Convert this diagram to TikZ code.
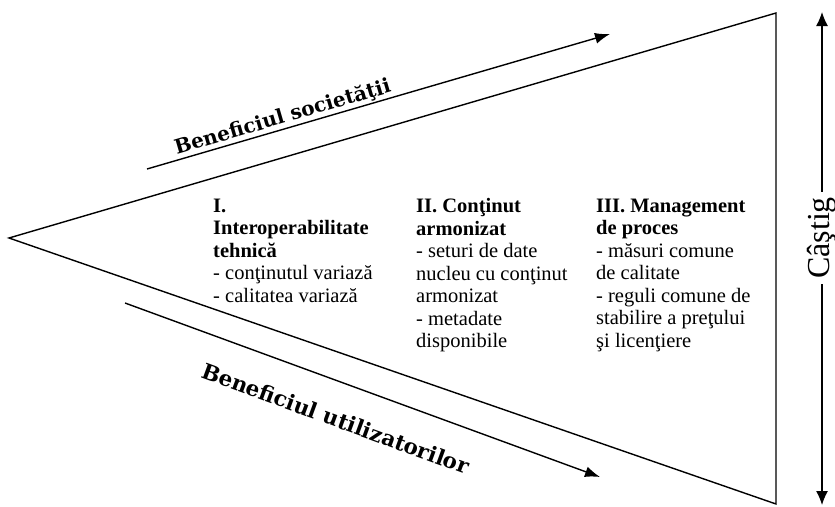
\documentclass[tikz,border=0pt]{standalone}
\usepackage{fontspec}
\setmainfont{Liberation Serif}
\newfontfamily\benefitfont{DejaVu Serif}
\usepackage{tikz}
\usetikzlibrary{shapes,arrows,arrows.meta,positioning}

\begin{document}
\begin{tikzpicture}[
    x=1pt, y=-1pt,
    edge/.style={draw, line width=1.4pt, line join=miter},
    flow/.style={draw, line width=1.4pt, -{Latex[length=15pt, width=11pt]}},
    axis/.style={draw, line width=1.2pt, -{Latex[length=14pt, width=12pt]}},
    column/.style={anchor=north west, align=left, inner sep=0pt, font=\fontsize{20.5}{22.5}\selectfont},
    benefit/.style={inner sep=1pt, font=\benefitfont\bfseries\fontsize{20}{22}\selectfont},
    gain/.style={rotate=90, inner sep=5pt, font=\fontsize{32}{34}\selectfont}
]
\useasboundingbox (0,0) rectangle (835,506);

% the wedge
\coordinate (apex) at (9,238);
\coordinate (top) at (776,13);
\coordinate (bottom) at (776,504);
\draw[edge] (apex) -- (top) -- (bottom) -- cycle;

% benefit arrows
\coordinate (socstart) at (147,169);
\coordinate (socend) at (610,34);
\draw[flow] (socstart) -- node[benefit, sloped, above, pos=0.30] (soclabel) {Beneficiul societăţii} (socend);

\coordinate (userstart) at (125,303);
\coordinate (userend) at (600,477);
\draw[flow] (userstart) -- node[benefit, sloped, below=26pt, pos=0.47, font=\benefitfont\bfseries\fontsize{21.5}{23}\selectfont] (userlabel) {Beneficiul utilizatorilor} (userend);

% stages
\node[column] (stage1) at (213,198.5) {\textbf{I.}\\\textbf{Interoperabilitate}\\\textbf{tehnică}\\- conţinutul variază\\- calitatea variază};
\node[column] (stage2) at (416,198.5) {\textbf{II. Conţinut}\\\textbf{armonizat}\\- seturi de date\\nucleu cu conţinut\\armonizat\\- metadate\\disponibile};
\node[column] (stage3) at (596,198.5) {\textbf{III. Management}\\\textbf{de proces}\\- măsuri comune\\de calitate\\- reguli comune de\\stabilire a preţului\\şi licenţiere};

% gain axis
\coordinate (gaintop) at (822,12);
\coordinate (gainbottom) at (822,505);
\node[gain] (gainlabel) at (822,238) {Câştig};
\draw[axis] (gainlabel.east) -- (gaintop);
\draw[axis] (gainlabel.west) -- (gainbottom);

\end{tikzpicture}
\end{document}
